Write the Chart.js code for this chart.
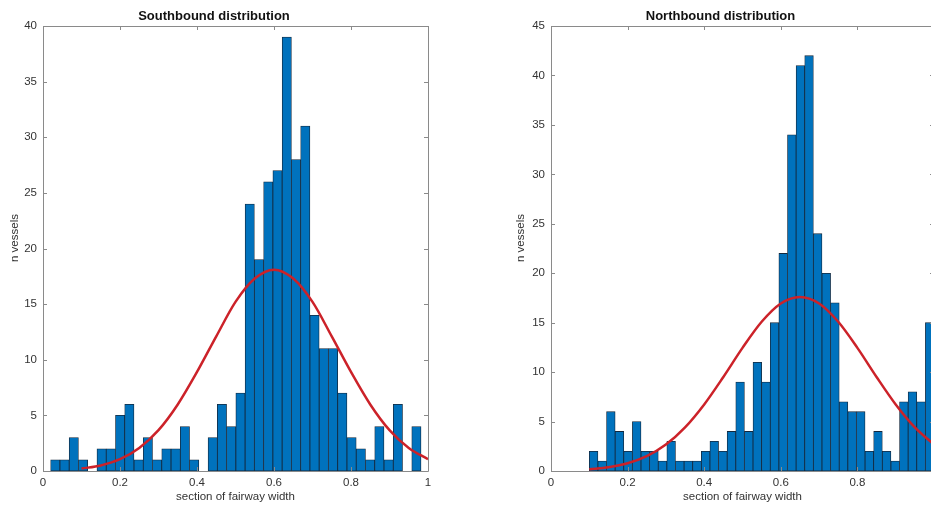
<!DOCTYPE html>
<html>
<head>
<meta charset="utf-8">
<title>Southbound / Northbound distribution</title>
<script src="https://cdn.jsdelivr.net/npm/chart.js@4.4.1/dist/chart.umd.min.js"></script>
<style>
  html, body { margin: 0; padding: 0; background: #fff; overflow: hidden; }
  #south { position: absolute; left: 0; top: 0; }
  #north { position: absolute; left: 466px; top: 0; }
</style>
</head>
<body>
<canvas id="south" width="465" height="512"></canvas>
<canvas id="north" width="500" height="512"></canvas>
<script>
// Southbound histogram: bin centres and counts
const southBins = [0.0319, 0.0560, 0.0800, 0.1041, 0.1281, 0.1522, 0.1762, 0.2003, 0.2243, 0.2484,
    0.2724, 0.2965, 0.3205, 0.3446, 0.3686, 0.3927, 0.4167, 0.4408, 0.4648, 0.4889,
    0.5129, 0.5370, 0.5610, 0.5851, 0.6091, 0.6332, 0.6572, 0.6813, 0.7053, 0.7294,
    0.7534, 0.7775, 0.8015, 0.8256, 0.8496, 0.8737, 0.8977, 0.9218, 0.9458, 0.9699];
const southCounts = [1, 1, 3, 1, 0, 2, 2, 5, 6, 1,
    3, 1, 2, 2, 4, 1, 0, 3, 6, 4,
    7, 24, 19, 26, 27, 39, 28, 31, 14, 11,
    11, 7, 3, 2, 1, 4, 1, 6, 0, 4];

// Southbound fitted curve
const southFitX = [0.10, 0.15, 0.20, 0.25, 0.30, 0.35, 0.40, 0.45, 0.50, 0.55,
    0.60, 0.65, 0.70, 0.75, 0.80, 0.85, 0.90, 0.95, 1.00];
const southFitY = [0.22, 0.50, 1.06, 2.07, 3.67, 5.98, 8.9, 12.1, 15.2, 17.3,
    18.1, 17.3, 15.2, 12.1, 8.9, 5.98, 3.67, 2.07, 1.06];

// Northbound histogram: bin centres and counts
const northBins = [0.11125, 0.13375, 0.15625, 0.17875, 0.20125, 0.22375, 0.24625, 0.26875, 0.29125, 0.31375,
    0.33625, 0.35875, 0.38125, 0.40375, 0.42625, 0.44875, 0.47125, 0.49375, 0.51625, 0.53875,
    0.56125, 0.58375, 0.60625, 0.62875, 0.65125, 0.67375, 0.69625, 0.71875, 0.74125, 0.76375,
    0.78625, 0.80875, 0.83125, 0.85375, 0.87625, 0.89875, 0.92125, 0.94375, 0.96625, 0.98875];
const northCounts = [2, 1, 6, 4, 2, 5, 2, 2, 1, 3,
    1, 1, 1, 2, 3, 2, 4, 9, 4, 11,
    9, 15, 22, 34, 41, 42, 24, 20, 17, 7,
    6, 6, 2, 4, 2, 1, 7, 8, 7, 15];

// Northbound fitted curve
const northFitX = [0.10, 0.15, 0.20, 0.25, 0.30, 0.35, 0.40, 0.45, 0.50, 0.55,
    0.60, 0.65, 0.70, 0.75, 0.80, 0.85, 0.90, 0.95, 1.00];
const northFitY = [0.17, 0.38, 0.78, 1.50, 2.67, 4.41, 6.73, 9.51, 12.45, 15.09,
    16.94, 17.6, 16.94, 15.09, 12.45, 9.51, 6.73, 4.41, 2.67];

const FONT = '"Liberation Sans", Arial, Helvetica, sans-serif';
const TEXT = '#333333';

// box round the axes with inward ticks on all four sides, plus the y label
const matlabFrame = {
    id: 'matlabFrame',
    afterDraw(chart, args, opts) {
        const ctx = chart.ctx;
        const a = chart.chartArea;
        const x = chart.scales.x;
        const y = chart.scales.y;
        ctx.save();
        ctx.strokeStyle = '#8a8a8a';
        ctx.lineWidth = 1;
        ctx.beginPath();
        ctx.rect(Math.round(a.left) + 0.5, Math.round(a.top) + 0.5,
            Math.round(a.right) - Math.round(a.left), Math.round(a.bottom) - Math.round(a.top));
        x.ticks.forEach(t => {
            const px = Math.round(x.getPixelForValue(t.value)) + 0.5;
            ctx.moveTo(px, a.bottom);
            ctx.lineTo(px, a.bottom - 4);
            ctx.moveTo(px, a.top);
            ctx.lineTo(px, a.top + 4);
        });
        y.ticks.forEach(t => {
            const py = Math.round(y.getPixelForValue(t.value)) + 0.5;
            ctx.moveTo(a.left, py);
            ctx.lineTo(a.left + 4, py);
            ctx.moveTo(a.right, py);
            ctx.lineTo(a.right - 4, py);
        });
        ctx.stroke();

        ctx.fillStyle = TEXT;
        ctx.font = '11.5px ' + FONT;
        ctx.textAlign = 'center';
        ctx.textBaseline = 'middle';
        ctx.translate(opts.labelX, opts.labelY);
        ctx.rotate(-Math.PI / 2);
        ctx.fillText(opts.label, 0, 0);
        ctx.restore();
    }
};

function makeHistogram(canvasId, title, bins, counts, fitX, fitY, yMax, pad, labelX) {
    const ctx = document.getElementById(canvasId).getContext('2d');
    return new Chart(ctx, {
        type: 'bar',
        data: {
            datasets: [{
                type: 'line',
                data: fitX.map((v, i) => ({ x: v, y: fitY[i] })),
                borderColor: '#cc2229',
                borderWidth: 2.5,
                pointRadius: 0,
                cubicInterpolationMode: 'monotone',
                fill: false,
                order: 0
            }, {
                type: 'bar',
                data: bins.map((v, i) => ({ x: v, y: counts[i] })),
                backgroundColor: '#0072BD',
                borderColor: '#14283c',
                borderWidth: 0.8,
                borderSkipped: false,
                barPercentage: 1,
                categoryPercentage: 1,
                order: 1
            }]
        },
        options: {
            responsive: false,
            animation: false,
            events: [],
            layout: {
                padding: { left: pad.left, right: pad.right, top: 0, bottom: 0 }
            },
            plugins: {
                legend: { display: false },
                tooltip: { enabled: false },
                title: {
                    display: true,
                    text: title,
                    color: '#111111',
                    font: { family: FONT, size: 13, weight: 'bold', lineHeight: 1.2 },
                    padding: { top: 9, bottom: 1.4 }
                },
                matlabFrame: { label: 'n vessels', labelX: labelX, labelY: 238 }
            },
            scales: {
                x: {
                    type: 'linear',
                    min: 0,
                    max: 1,
                    offset: false,
                    grid: { display: false, drawTicks: false, offset: false },
                    border: { display: false },
                    ticks: {
                        stepSize: 0.2,
                        autoSkip: false,
                        maxRotation: 0,
                        padding: 5,
                        color: TEXT,
                        font: { family: FONT, size: 11.5 },
                        callback: v => String(Number(v.toFixed(1)))
                    },
                    title: {
                        display: true,
                        text: 'section of fairway width',
                        color: TEXT,
                        font: { family: FONT, size: 11.5, lineHeight: 1.2 },
                        padding: { top: 0, bottom: 8 }
                    },
                    afterFit: s => { s.height = 41; }
                },
                y: {
                    min: 0,
                    max: yMax,
                    grid: { display: false, drawTicks: false },
                    border: { display: false },
                    ticks: {
                        stepSize: 5,
                        autoSkip: false,
                        padding: 6,
                        color: TEXT,
                        font: { family: FONT, size: 11.5 }
                    },
                    afterFit: s => { s.width = pad.yWidth; }
                }
            }
        },
        plugins: [matlabFrame]
    });
}

makeHistogram('south', 'Southbound distribution', southBins, southCounts, southFitX, southFitY, 40,
    { left: 0, right: 37, yWidth: 43 }, 15);
makeHistogram('north', 'Northbound distribution', northBins, northCounts, northFitX, northFitY, 45,
    { left: 41, right: 32, yWidth: 44 }, 55);
</script>
</body>
</html>
